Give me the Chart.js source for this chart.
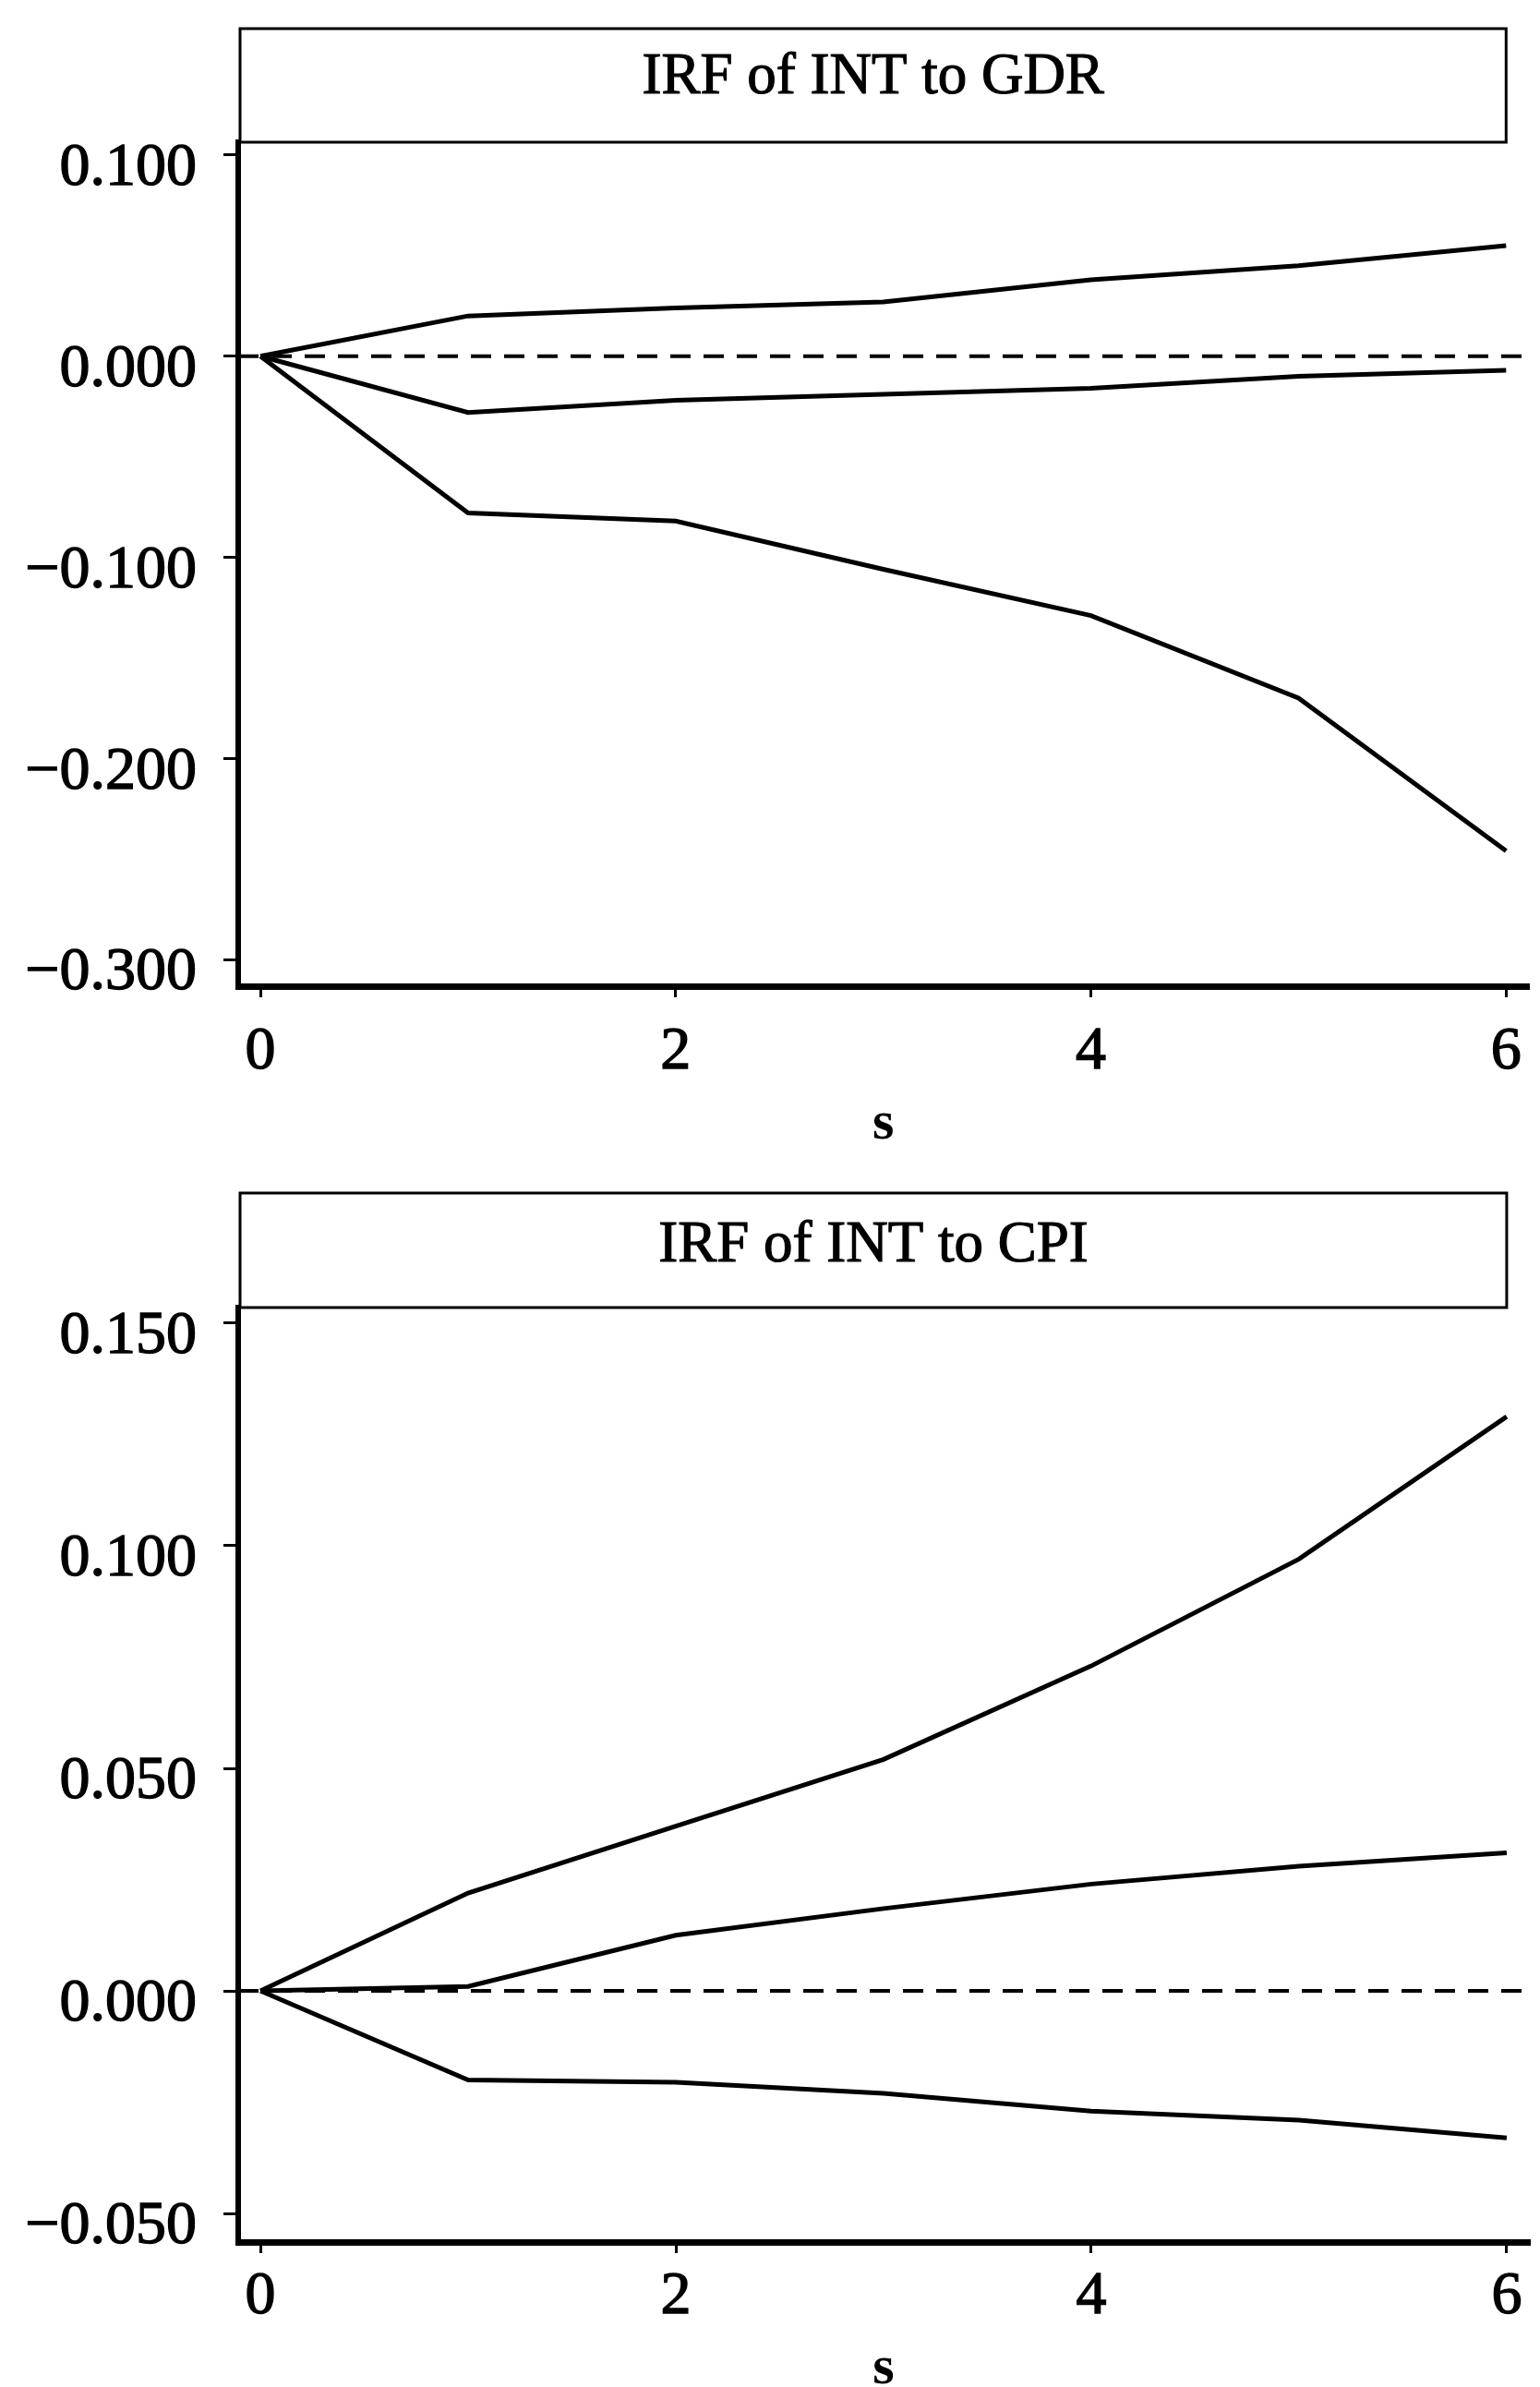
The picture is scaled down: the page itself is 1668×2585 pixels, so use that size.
<!DOCTYPE html>
<html>
<head>
<meta charset="utf-8">
<title>IRF of INT</title>
<script src="https://cdn.jsdelivr.net/npm/chart.js@4.4.1/dist/chart.umd.min.js"></script>
<style>
  html, body { margin: 0; padding: 0; background: #fff; overflow: hidden; }
  canvas { position: absolute; left: 0; }
  #gdrChart { top: 0; }
  #cpiChart { top: 1250px; }
</style>
</head>
<body>
<canvas id="gdrChart" width="1668" height="1250"></canvas>
<canvas id="cpiChart" width="1668" height="1360"></canvas>
<script>
// Forecast horizon s and the x tick labels
const steps = [0, 1, 2, 3, 4, 5, 6];
const stepTicks = [0, 2, 4, 6];

// IRF of INT to GDR: upper band, point estimate, lower band
const gdrUpper = [0, 0.020, 0.024, 0.027, 0.038, 0.045, 0.055];
const gdrIrf   = [0, -0.028, -0.022, -0.019, -0.016, -0.010, -0.007];
const gdrLower = [0, -0.078, -0.082, -0.106, -0.129, -0.170, -0.246];
const gdrTicks = [0.1, 0, -0.1, -0.2, -0.3];

// IRF of INT to CPI
const cpiUpper = [0, 0.022, 0.037, 0.052, 0.073, 0.097, 0.129];
const cpiIrf   = [0, 0.001, 0.0125, 0.0185, 0.024, 0.028, 0.031];
const cpiLower = [0, -0.020, -0.0205, -0.023, -0.027, -0.029, -0.033];
const cpiTicks = [0.15, 0.1, 0.05, 0, -0.05];

const SERIF = "'Liberation Serif', 'Times New Roman', serif";

function fmtTick(v) {
    if (v === 0) return '0.000';
    return (v < 0 ? '\u2212' : '') + Math.abs(v).toFixed(3);
}

function toPoints(values) {
    return steps.map((s, i) => ({ x: s, y: values[i] }));
}

// Boxed title strip above the plot and the dashed zero reference line
const irfFrame = {
    id: 'irfFrame',
    beforeDatasetsDraw(chart) {
        const { ctx, chartArea, scales } = chart;
        const y0 = scales.y.getPixelForValue(0);
        ctx.save();
        ctx.strokeStyle = '#000';
        ctx.lineWidth = 4;
        ctx.setLineDash([22, 14]);
        ctx.beginPath();
        ctx.moveTo(chartArea.left, y0);
        ctx.lineTo(chartArea.right, y0);
        ctx.stroke();
        ctx.restore();
    },
    afterDraw(chart, args, opts) {
        const { ctx, chartArea, scales } = chart;
        const left = chartArea.left + 2;
        const right = scales.x.getPixelForValue(stepTicks[stepTicks.length - 1]);
        const top = opts.boxTop;
        const bottom = chartArea.top;
        ctx.save();
        ctx.strokeStyle = '#000';
        ctx.lineWidth = 3;
        ctx.strokeRect(left, top, right - left, bottom - top);

        // panel heading, centred in the strip
        ctx.font = '63px ' + SERIF;
        ctx.fillStyle = '#000';
        ctx.textAlign = 'center';
        ctx.textBaseline = 'middle';
        ctx.lineWidth = 1.2;
        const cx = (left + right) / 2;
        ctx.fillText(opts.text, cx, opts.textY);
        ctx.strokeText(opts.text, cx, opts.textY);
        ctx.restore();
    }
};

function drawPanel(canvasId, p) {
    const lineStyle = {
        borderColor: '#000',
        borderWidth: 5,
        pointRadius: 0,
        tension: 0,
        fill: false
    };
    const tickFont = { family: SERIF, size: 66, lineHeight: 1.2 };
    return new Chart(document.getElementById(canvasId), {
        type: 'line',
        data: {
            datasets: [
                Object.assign({ label: 'upper', data: toPoints(p.upper) }, lineStyle),
                Object.assign({ label: 'irf', data: toPoints(p.irf) }, lineStyle),
                Object.assign({ label: 'lower', data: toPoints(p.lower) }, lineStyle)
            ]
        },
        options: {
            responsive: false,
            animation: false,
            devicePixelRatio: 1,
            layout: {
                autoPadding: false,
                padding: { top: p.plotTop, left: 0, right: 12, bottom: 0 }
            },
            plugins: {
                legend: { display: false },
                tooltip: { enabled: false },
                title: { display: false },
                irfFrame: { boxTop: p.boxTop, text: p.title, textY: p.titleY }
            },
            scales: {
                x: {
                    type: 'linear',
                    min: -0.107,
                    max: 6.107,
                    afterBuildTicks: (s) => { s.ticks = stepTicks.map(v => ({ value: v })); },
                    afterFit: (s) => { s.height = p.xHeight; },
                    ticks: {
                        color: '#000',
                        padding: p.xTickPad,
                        maxRotation: 0,
                        autoSkip: false,
                        font: tickFont,
                        textStrokeColor: '#000',
                        textStrokeWidth: 1.4,
                        callback: (v) => String(v)
                    },
                    grid: { drawOnChartArea: false, tickLength: 12, lineWidth: 3, color: '#000' },
                    border: { display: true, width: 7, color: '#000' },
                    title: {
                        display: true,
                        text: 's',
                        color: '#000',
                        font: { family: SERIF, size: 60, weight: 'bold', lineHeight: 1 },
                        padding: { top: 0, bottom: p.sPad }
                    }
                },
                y: {
                    type: 'linear',
                    min: p.yMin,
                    max: p.yMax,
                    afterBuildTicks: (s) => { s.ticks = p.yTicks.map(v => ({ value: v })); },
                    afterFit: (s) => { s.width = 258; },
                    ticks: {
                        color: '#000',
                        padding: 29,
                        labelOffset: 15,
                        autoSkip: false,
                        font: tickFont,
                        textStrokeColor: '#000',
                        textStrokeWidth: 1.4,
                        callback: fmtTick
                    },
                    grid: { drawOnChartArea: false, tickLength: 16, lineWidth: 3, color: '#000' },
                    border: { display: true, width: 6, color: '#000' }
                }
            }
        },
        plugins: [irfFrame]
    });
}

drawPanel('gdrChart', {
    title: 'IRF of INT to GDR',
    upper: gdrUpper, irf: gdrIrf, lower: gdrLower,
    yTicks: gdrTicks, yMin: -0.3133, yMax: 0.1064,
    boxTop: 31, plotTop: 154, titleY: 84,
    xHeight: 182, xTickPad: 20, sPad: 3
});

drawPanel('cpiChart', {
    title: 'IRF of INT to CPI',
    upper: cpiUpper, irf: cpiIrf, lower: cpiLower,
    yTicks: cpiTicks, yMin: -0.0564, yMax: 0.1535,
    boxTop: 42, plotTop: 166, titleY: 99,
    xHeight: 182, xTickPad: 8, sPad: 15
});
</script>
</body>
</html>
